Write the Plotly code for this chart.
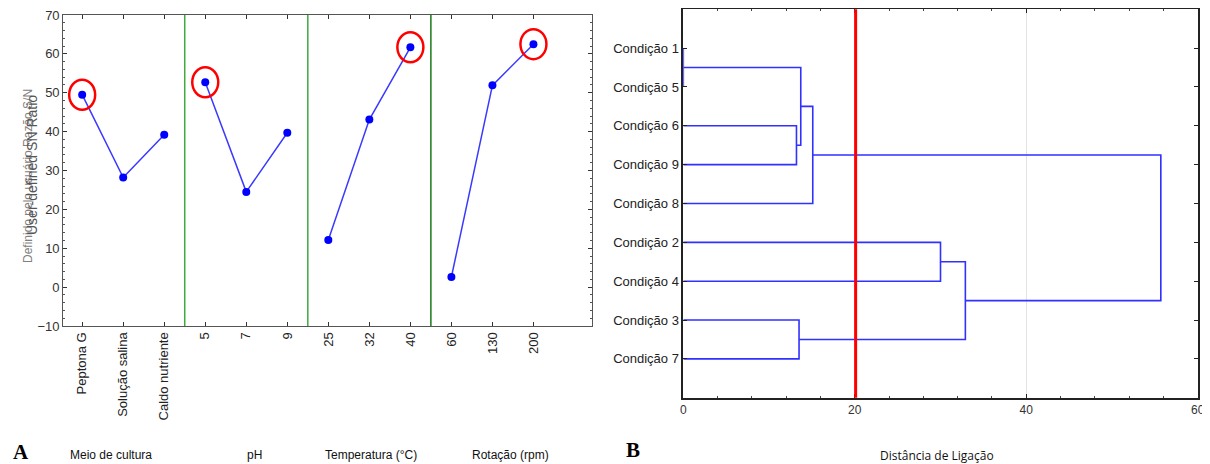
import plotly.graph_objects as go

# ---------------- Data: panel A (main effects plot) ----------------
group_names = ["Meio de cultura", "pH", "Temperatura (°C)", "Rotação (rpm)"]
meio_levels = ["Peptona G", "Solução salina", "Caldo nutriente"]
meio_values = [49.5, 28.2, 39.2]
ph_levels = ["5", "7", "9"]
ph_values = [52.7, 24.5, 39.7]
temp_levels = ["25", "32", "40"]
temp_values = [12.1, 43.1, 61.7]
rot_levels = ["60", "130", "200"]
rot_values = [2.6, 51.9, 62.5]
y_ticks_a = [-10, 0, 10, 20, 30, 40, 50, 60, 70]

# ---------------- Data: panel B (dendrogram) ----------------
leaf_order = ["Condição 1", "Condição 5", "Condição 6", "Condição 9", "Condição 8",
              "Condição 2", "Condição 4", "Condição 3", "Condição 7"]
merge_a = ["Condição 1", "Condição 6", "Condição 3", "G15", "G1569", "Condição 2", "G24", "G15698"]
merge_b = ["Condição 5", "Condição 9", "Condição 7", "G69", "Condição 8", "Condição 4", "G37", "G2437"]
merge_name = ["G15", "G69", "G37", "G1569", "G15698", "G24", "G2437", "ALL"]
merge_dist = [0.0, 13.2, 13.5, 13.7, 15.1, 30.0, 32.9, 55.7]
x_ticks_b = [0, 20, 40, 60]
cut_distance = 20.1

fig = go.Figure()

# ---------- Panel A ----------
level_groups = [meio_levels, ph_levels, temp_levels, rot_levels]
value_groups = [meio_values, ph_values, temp_values, rot_values]
xs, ys, tickvals, ticktext = [], [], [], []
best_x, best_y = [], []
boundaries = []
pos = 0
for gi, (lv, vv) in enumerate(zip(level_groups, value_groups)):
    idx = list(range(pos, pos + len(lv)))
    xs += idx + [None]
    ys += vv + [None]
    tickvals += idx
    ticktext += lv
    k = max(range(len(vv)), key=lambda i: vv[i])
    best_x.append(idx[k])
    best_y.append(vv[k])
    pos += len(lv)
    if gi < len(level_groups) - 1:
        boundaries.append(pos - 0.5)

fig.add_trace(go.Scatter(
    x=xs, y=ys, mode="lines+markers", xaxis="x", yaxis="y",
    line=dict(color="#3a3aff", width=1.5),
    marker=dict(color="#0000ff", size=8),
    showlegend=False, connectgaps=False, hoverinfo="skip"))

shapes = []
green_cols = ["#3faa3f", "#3faa3f", "#1a7a1a"]
for b, c in zip(boundaries, green_cols):
    shapes.append(dict(type="line", xref="x", yref="y domain", x0=b, x1=b, y0=0, y1=1,
                       line=dict(color=c, width=1.5), layer="above"))
for bx, by in zip(best_x, best_y):
    shapes.append(dict(type="circle", xref="x", yref="y", xsizemode="pixel", ysizemode="pixel",
                       xanchor=bx, yanchor=by, x0=-13, x1=13, y0=-15, y1=15,
                       line=dict(color="#ff0000", width=2.5)))

# ---------- Panel B: dendrogram ----------
node_x = {name: 0.0 for name in leaf_order}
node_y = {name: float(i) for i, name in enumerate(leaf_order)}
dx, dy = [], []
for a, b, n, d in zip(merge_a, merge_b, merge_name, merge_dist):
    xa, ya, xb, yb = node_x[a], node_y[a], node_x[b], node_y[b]
    dx += [xa, d, d, xb, None]
    dy += [ya, ya, yb, yb, None]
    node_x[n] = d
    node_y[n] = (ya + yb) / 2

fig.add_trace(go.Scatter(
    x=dx, y=dy, mode="lines", xaxis="x2", yaxis="y2",
    line=dict(color="#3030ff", width=1.6),
    showlegend=False, hoverinfo="skip"))

shapes.append(dict(type="line", xref="x2", yref="y2 domain", x0=cut_distance, x1=cut_distance,
                   y0=0, y1=1, line=dict(color="#ff0000", width=3), layer="above"))

# page has an 8px body margin: figure occupies screen x 8..1210, y 8..464
OFF = 8
W, H = 1210 - OFF, 464 - OFF


def px(p):
    return (p - OFF) / W


def py(p):
    return (H + OFF - p) / H


tickfont = dict(family="Liberation Sans, Arial", size=13, color="#222222")

fig.update_layout(
    width=W, height=H, autosize=False,
    margin=dict(l=0, r=0, t=0, b=0, autoexpand=False),
    paper_bgcolor="white", plot_bgcolor="white",
    shapes=shapes,
    xaxis=dict(domain=[px(63.3), px(591.7)], range=[-0.46, 12.42],
               tickmode="array", tickvals=tickvals, ticktext=ticktext,
               tickangle=-90, tickfont=tickfont, ticklabeloverflow="allow",
               ticks="inside", ticklen=4, tickcolor="#333",
               showline=True, linecolor="#555", linewidth=1.2, mirror="ticks",
               showgrid=False, zeroline=False, fixedrange=True, automargin=False),
    yaxis=dict(domain=[py(326), py(15)], range=[-10.001, 70.001],
               tickmode="array", tickvals=y_ticks_a, ticklabeloverflow="allow",
               tickfont=dict(family="Liberation Sans, Arial", size=13, color="#333"),
               ticks="inside", ticklen=4, tickcolor="#333",
               minor=dict(ticks="inside", ticklen=2, dtick=2, tick0=0, tickcolor="#555"),
               showline=True, linecolor="#555", linewidth=1.2, mirror="ticks",
               showgrid=False, zeroline=False, fixedrange=True, automargin=False),
    xaxis2=dict(domain=[px(683.3), px(1197.7)], range=[-0.001, 60.001],
                tickmode="array", tickvals=x_ticks_b, ticklabeloverflow="allow",
                anchor="y2",
                tickfont=dict(family="Liberation Sans, Arial", size=12, color="#333"),
                ticks="inside", ticklen=4, tickcolor="#222",
                minor=dict(ticks="inside", ticklen=2, dtick=4, tick0=0, tickcolor="#444"),
                showline=True, linecolor="#222", linewidth=1.5, mirror="ticks",
                showgrid=True, gridcolor="#e2e2e2", gridwidth=1,
                zeroline=False, fixedrange=True, automargin=False),
    yaxis2=dict(domain=[py(397.7), py(9.3)], range=[9, -1],
                anchor="x2", ticklabeloverflow="allow",
                tickmode="array", tickvals=list(range(len(leaf_order))), ticktext=leaf_order,
                tickfont=tickfont,
                ticks="inside", ticklen=4, tickcolor="#222",
                showline=True, linecolor="#222", linewidth=1.5, mirror="ticks",
                showgrid=False, zeroline=False, fixedrange=True, automargin=False),
)

annotations = []
# y-axis title of panel A (overlapping texts, as in the source)
annotations.append(dict(text="Definido pelo usuário Razão S/N", xref="paper", yref="paper",
                        x=px(19), y=py(176), showarrow=False, textangle=-90,
                        font=dict(family="Liberation Sans, Arial", size=12, color="#808080")))
annotations.append(dict(text="User-defined SN Ratio", xref="paper", yref="paper",
                        x=px(22), y=py(165), showarrow=False, textangle=-90,
                        font=dict(family="Liberation Sans, Arial", size=14, color="#555")))
# group labels under panel A
group_x = [68, 245, 323, 470]
for name, gx in zip(group_names, group_x):
    annotations.append(dict(text=name, xref="paper", yref="paper", x=px(gx), y=py(455),
                            xanchor="left", yanchor="middle", showarrow=False,
                            font=dict(family="Liberation Sans, Arial", size=12, color="#111")))
annotations.append(dict(text="<b>A</b>", xref="paper", yref="paper", x=px(11), y=py(452),
                        xanchor="left", yanchor="middle", showarrow=False,
                        font=dict(family="Liberation Serif, Times New Roman", size=21, color="#000")))
annotations.append(dict(text="<b>B</b>", xref="paper", yref="paper", x=px(624), y=py(450),
                        xanchor="left", yanchor="middle", showarrow=False,
                        font=dict(family="Liberation Serif, Times New Roman", size=21, color="#000")))
annotations.append(dict(text="Distância de Ligação", xref="paper", yref="paper", x=px(937),
                        y=py(455), xanchor="center", yanchor="middle", showarrow=False,
                        font=dict(family="Open Sans, Noto Sans", size=12, color="#111")))
fig.update_layout(annotations=annotations)

fig.write_html("out.html")
